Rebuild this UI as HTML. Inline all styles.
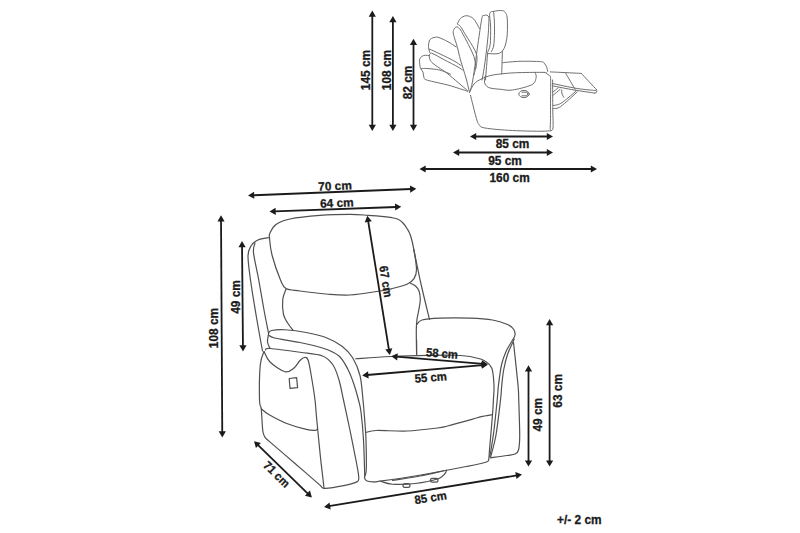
<!DOCTYPE html>
<html><head><meta charset="utf-8"><style>
html,body{margin:0;padding:0;background:#fff;width:800px;height:533px;overflow:hidden}
svg{display:block}
</style></head><body>
<svg width="800" height="533" viewBox="0 0 800 533">
<g fill="none" stroke="#505050" stroke-width="1.2" stroke-linejoin="round" stroke-linecap="round">
<g>
<path d="M270.00 233.00 C271.08 230.75 272.67 226.83 276.00 224.50 C279.33 222.17 282.67 220.52 290.00 219.00 C297.33 217.48 310.00 216.17 320.00 215.40 C330.00 214.63 342.00 214.42 350.00 214.40 C358.00 214.38 362.33 214.93 368.00 215.30 C373.67 215.67 380.00 216.20 384.00 216.60 C388.00 217.00 389.67 217.25 392.00 217.70 C394.33 218.15 396.25 218.50 398.00 219.30 C399.75 220.10 401.00 220.97 402.50 222.50 C404.00 224.03 405.67 226.33 407.00 228.50 C408.33 230.67 409.37 232.03 410.50 235.50 C411.63 238.97 412.80 243.62 413.80 249.30 C414.80 254.98 416.47 264.72 416.50 269.60 C416.53 274.48 415.58 276.15 414.00 278.60 C412.42 281.05 410.78 282.60 407.00 284.30 C403.22 286.00 395.80 287.68 391.30 288.80 C386.80 289.92 386.88 289.97 380.00 291.00 C373.12 292.03 359.00 294.50 350.00 295.00 C341.00 295.50 334.33 294.67 326.00 294.00 C317.67 293.33 306.67 291.92 300.00 291.00 C293.33 290.08 289.25 290.33 286.00 288.50 C282.75 286.67 282.83 285.58 280.50 280.00 C278.17 274.42 273.83 262.00 272.00 255.00 C270.17 248.00 269.83 241.67 269.50 238.00 C269.17 234.33 268.92 235.25 270.00 233.00Z"/>
<path d="M269.50 237.50 C267.58 237.92 261.08 238.58 258.00 240.00 C254.92 241.42 252.67 243.33 251.00 246.00 C249.33 248.67 248.08 250.33 248.00 256.00 C247.92 261.67 249.08 269.75 250.50 280.00 C251.92 290.25 254.50 305.67 256.50 317.50 C258.50 329.33 261.50 345.42 262.50 351.00"/>
<path d="M255.00 243.00 C254.75 244.60 252.88 246.43 253.50 252.60 C254.12 258.77 257.00 270.43 258.75 280.00 C260.50 289.57 262.38 301.17 264.00 310.00 C265.62 318.83 267.75 329.17 268.50 333.00"/>
<path d="M286.00 289.00 C285.46 290.75 283.17 295.25 282.75 299.50 C282.33 303.75 282.62 310.50 283.50 314.50 C284.38 318.50 286.42 320.88 288.00 323.50 C289.58 326.12 292.17 329.08 293.00 330.20"/>
<path d="M410.50 283.30 C411.33 283.75 414.08 284.72 415.50 286.00 C416.92 287.28 418.20 288.82 419.00 291.00 C419.80 293.18 420.22 296.60 420.30 299.10 C420.38 301.60 419.85 303.68 419.50 306.00 C419.15 308.32 418.62 310.77 418.20 313.00 C417.78 315.23 417.32 316.57 417.00 319.40 C416.68 322.23 416.37 324.15 416.30 330.00 C416.23 335.85 416.55 350.42 416.60 354.50"/>
<path d="M413.80 249.30 C415.00 255.08 418.38 272.30 421.00 284.00 C423.62 295.70 428.08 313.58 429.50 319.50"/>
<path d="M416.75 324.50 C417.62 323.75 418.12 321.05 422.00 320.00 C425.88 318.95 432.00 318.50 440.00 318.20 C448.00 317.90 461.25 317.90 470.00 318.20 C478.75 318.50 486.25 318.95 492.50 320.00 C498.75 321.05 504.00 323.00 507.50 324.50 C511.00 326.00 512.25 327.25 513.50 329.00 C514.75 330.75 515.25 333.00 515.00 335.00 C514.75 337.00 513.50 338.25 512.00 341.00 C510.50 343.75 507.75 347.50 506.00 351.50 C504.25 355.50 502.75 359.42 501.50 365.00 C500.25 370.58 499.22 379.17 498.50 385.00 C497.78 390.83 497.95 392.50 497.20 400.00 C496.45 407.50 495.03 421.67 494.00 430.00 C492.97 438.33 491.72 445.50 491.00 450.00 C490.28 454.50 489.92 455.83 489.70 457.00"/>
<path d="M514.25 339.00 C513.12 341.58 509.25 349.42 507.50 354.50 C505.75 359.58 504.70 364.42 503.75 369.50 C502.80 374.58 502.34 379.92 501.80 385.00 C501.26 390.08 501.47 391.67 500.50 400.00 C499.53 408.33 497.65 425.50 496.00 435.00 C494.35 444.50 491.50 453.33 490.60 457.00"/>
<path d="M513.50 342.50 C514.25 349.58 517.12 375.42 518.00 385.00 C518.88 394.58 518.47 391.46 518.75 400.00 C519.03 408.54 519.74 427.92 519.70 436.25 C519.66 444.58 519.28 447.04 518.50 450.00 C517.72 452.96 516.92 453.08 515.00 454.00 C513.08 454.92 511.07 454.87 507.00 455.50 C502.93 456.13 493.33 457.42 490.60 457.80"/>
<path d="M355.60 358.75 C361.54 358.38 374.68 357.08 391.25 356.50 C407.82 355.92 440.62 354.96 455.00 355.25 C469.38 355.54 472.50 357.25 477.50 358.25 C482.50 359.25 482.62 359.62 485.00 361.25 C487.38 362.88 490.25 364.04 491.75 368.00 C493.25 371.96 493.73 379.67 494.00 385.00 C494.27 390.33 493.65 395.05 493.40 400.00 C493.15 404.95 493.15 406.37 492.50 414.70 C491.85 423.03 490.12 442.66 489.50 450.00 C488.88 457.34 489.25 456.75 488.75 458.75 C488.25 460.75 490.25 460.71 486.50 462.00 C482.75 463.29 478.17 464.17 466.25 466.50 C454.33 468.83 430.29 473.42 415.00 476.00 C399.71 478.58 381.25 481.00 374.50 482.00"/>
<path d="M366.00 432.50 C367.71 432.17 369.33 430.75 376.25 430.50 C383.17 430.25 397.29 431.42 407.50 431.00 C417.71 430.58 430.83 428.83 437.50 428.00 C444.17 427.17 441.77 427.43 447.50 426.00 C453.23 424.57 466.27 420.97 471.90 419.40 C477.52 417.83 477.90 417.38 481.25 416.60 C484.60 415.82 490.21 415.02 492.00 414.70"/>
<path d="M268.50 333.50 C269.00 333.00 268.75 331.12 271.50 330.50 C274.25 329.88 279.00 329.38 285.00 329.75 C291.00 330.12 300.50 331.38 307.50 332.75 C314.50 334.12 321.25 335.75 327.00 338.00 C332.75 340.25 337.75 343.00 342.00 346.25 C346.25 349.50 349.50 352.62 352.50 357.50 C355.50 362.38 358.25 368.42 360.00 375.50 C361.75 382.58 362.17 391.92 363.00 400.00 C363.83 408.08 364.50 417.33 365.00 424.00 C365.50 430.67 365.79 432.33 366.00 440.00 C366.21 447.67 366.50 463.75 366.25 470.00 C366.00 476.25 364.38 475.67 364.50 477.50 C364.62 479.33 365.33 480.25 367.00 481.00 C368.67 481.75 373.25 481.83 374.50 482.00"/>
<path d="M268.50 335.00 C269.50 335.50 269.25 336.75 274.50 338.00 C279.75 339.25 291.75 340.75 300.00 342.50 C308.25 344.25 317.50 346.25 324.00 348.50 C330.50 350.75 335.00 352.50 339.00 356.00 C343.00 359.50 345.50 364.75 348.00 369.50 C350.50 374.25 352.25 379.42 354.00 384.50 C355.75 389.58 357.33 395.42 358.50 400.00 C359.67 404.58 360.17 405.33 361.00 412.00 C361.83 418.67 362.88 429.33 363.50 440.00 C364.12 450.67 364.54 470.00 364.75 476.00"/>
<path d="M268.50 334.00 C268.33 335.33 267.25 339.58 267.50 342.00 C267.75 344.42 269.58 347.42 270.00 348.50"/>
<path d="M265.50 350.00 C266.25 349.75 264.25 348.12 270.00 348.50 C275.75 348.88 291.25 351.00 300.00 352.25 C308.75 353.50 317.00 353.88 322.50 356.00 C328.00 358.12 330.25 361.00 333.00 365.00 C335.75 369.00 337.25 374.17 339.00 380.00 C340.75 385.83 341.77 392.08 343.50 400.00 C345.23 407.92 347.17 416.67 349.40 427.50 C351.63 438.33 355.34 456.67 356.90 465.00 C358.46 473.33 358.75 474.68 358.75 477.50 C358.75 480.32 359.40 480.55 356.90 481.90 C354.40 483.25 349.07 484.52 343.75 485.60 C338.43 486.68 328.75 488.23 325.00 488.40 C321.25 488.57 321.88 486.90 321.25 486.60"/>
<path d="M264.00 351.50 C265.00 353.25 266.50 358.62 270.00 362.00 C273.50 365.38 281.00 370.75 285.00 371.75 C289.00 372.75 291.50 369.88 294.00 368.00 C296.50 366.12 298.25 362.25 300.00 360.50 C301.75 358.75 303.12 357.50 304.50 357.50 C305.88 357.50 307.00 356.75 308.25 360.50 C309.50 364.25 310.88 373.42 312.00 380.00 C313.12 386.58 314.23 393.67 315.00 400.00 C315.77 406.33 315.72 408.73 316.60 418.00 C317.48 427.27 319.22 445.27 320.30 455.60 C321.38 465.93 322.48 474.53 323.10 480.00 C323.72 485.47 323.85 487.00 324.00 488.40"/>
<path d="M264.00 351.50 C263.38 353.75 261.00 356.92 260.25 365.00 C259.50 373.08 259.33 392.71 259.50 400.00 C259.67 407.29 260.78 404.58 261.25 408.75 C261.72 412.92 262.01 421.12 262.30 425.00 C262.59 428.88 262.58 430.02 263.00 432.00 C263.42 433.98 263.80 435.38 264.80 436.90 C265.80 438.42 263.97 436.67 269.00 441.10 C274.03 445.53 286.32 456.00 295.00 463.50 C303.68 471.00 316.75 482.33 321.10 486.10"/>
<path d="M261.25 408.75 C262.50 409.69 264.38 411.90 268.75 414.40 C273.12 416.90 281.25 421.25 287.50 423.75 C293.75 426.25 301.57 428.31 306.25 429.40 C310.93 430.49 313.73 430.47 315.60 430.30 C317.48 430.13 317.18 428.72 317.50 428.40"/>
<path d="M416.60 340.00 C416.60 342.42 416.60 352.08 416.60 354.50"/>
<path d="M380.50 481.25 C382.50 481.75 386.75 483.88 392.50 484.25 C398.25 484.62 407.50 484.38 415.00 483.50 C422.50 482.62 432.50 480.67 437.50 479.00 C442.50 477.33 443.50 475.00 445.00 473.50 C446.50 472.00 446.25 470.58 446.50 470.00"/>
<path d="M392.50 480.50 C397.08 479.75 411.50 477.62 420.00 476.00 C428.50 474.38 439.58 471.62 443.50 470.75"/>
<path d="M289.2 378.5 L296.6 377.6 L297.6 387.6 L290 388.4 Z"/>
<rect x="403" y="483.6" width="7" height="3.8" rx="1.9"/>
<rect x="430.5" y="478.4" width="7.5" height="3.8" rx="1.9"/>
</g><g stroke="#6e6e6e" stroke-width="1">
<path d="M488.30 53.60 C489.95 53.60 495.73 54.20 498.20 53.60 C500.67 53.00 501.82 51.77 503.10 50.00 C504.38 48.23 505.20 45.80 505.90 43.00 C506.60 40.20 507.07 37.18 507.30 33.20 C507.53 29.22 507.53 22.38 507.30 19.10 C507.07 15.82 506.72 14.92 505.90 13.50 C505.08 12.08 504.38 10.97 502.40 10.60 C500.42 10.23 496.12 10.82 494.00 11.30 C491.88 11.78 490.27 11.03 489.70 13.50 C489.13 15.97 490.52 20.95 490.60 26.10 C490.68 31.25 490.70 40.05 490.20 44.40 C489.70 48.75 488.03 50.90 487.60 52.20"/>
<path d="M493.50 11.50 C493.63 12.92 494.13 16.58 494.30 20.00 C494.47 23.42 494.58 27.83 494.50 32.00 C494.42 36.17 494.30 41.75 493.80 45.00 C493.30 48.25 491.88 50.42 491.50 51.50"/>
<path d="M487.60 52.90 C487.25 57.42 485.85 75.48 485.50 80.00"/>
<path d="M502.40 51.50 C502.28 55.25 501.82 70.25 501.70 74.00"/>
<path d="M489.00 17.00 C488.65 16.68 487.72 15.33 486.90 15.10 C486.08 14.87 484.92 15.17 484.10 15.60 C483.28 16.03 482.93 13.60 482.00 17.70 C481.07 21.80 480.03 29.82 478.50 40.20 C476.97 50.58 474.32 71.25 472.80 80.00 C471.28 88.75 469.97 90.58 469.40 92.70"/>
<path d="M489.00 17.00 C488.88 19.70 488.77 27.22 488.30 33.20 C487.83 39.18 486.90 47.03 486.20 52.90 C485.50 58.77 484.80 63.88 484.10 68.40 C483.40 72.92 482.35 78.07 482.00 80.00"/>
<path d="M457.40 23.60 C457.92 22.73 459.13 19.70 460.50 18.40 C461.87 17.10 463.88 16.05 465.60 15.80 C467.32 15.55 469.25 16.12 470.80 16.90 C472.35 17.68 473.45 18.53 474.90 20.50 C476.35 22.47 478.73 27.33 479.50 28.70"/>
<path d="M457.40 24.10 C457.92 24.50 459.13 24.70 460.50 26.50 C461.87 28.30 463.20 30.92 465.60 34.90 C468.00 38.88 473.00 46.22 474.90 50.40 C476.80 54.58 477.15 55.90 477.00 60.00 C476.85 64.10 474.50 72.50 474.00 75.00"/>
<path d="M460.50 29.70 C460.07 29.28 458.68 27.62 457.90 27.20 C457.12 26.78 456.48 26.78 455.80 27.20 C455.12 27.62 454.23 28.77 453.80 29.70 C453.37 30.63 453.03 31.25 453.20 32.80 C453.37 34.35 454.10 36.58 454.80 39.00 C455.50 41.42 456.45 43.80 457.40 47.30 C458.35 50.80 459.07 54.88 460.50 60.00 C461.93 65.12 464.52 72.67 466.00 78.00 C467.48 83.33 468.83 89.67 469.40 92.00"/>
<path d="M460.50 29.70 C461.52 31.60 464.37 36.63 466.60 41.10 C468.83 45.57 472.33 52.02 473.90 56.50 C475.47 60.98 475.65 66.08 476.00 68.00"/>
<path d="M456.25 47.00 C454.88 46.12 450.88 43.32 448.00 41.75 C445.12 40.18 441.12 38.35 439.00 37.60 C436.88 36.85 436.50 37.12 435.25 37.25 C434.00 37.38 432.50 37.77 431.50 38.40 C430.50 39.02 429.75 39.69 429.25 41.00 C428.75 42.31 428.56 44.88 428.50 46.25 C428.44 47.62 428.68 48.21 428.90 49.25 C429.12 50.29 429.65 51.96 429.80 52.50"/>
<path d="M428.90 49.25 C429.33 49.38 428.94 48.88 431.50 50.00 C434.06 51.12 440.33 54.08 444.25 56.00 C448.17 57.92 452.21 59.92 455.00 61.50 C457.79 63.08 460.00 64.83 461.00 65.50"/>
<path d="M462.50 70.00 C461.75 69.50 461.04 68.71 458.00 67.00 C454.96 65.29 448.42 61.96 444.25 59.75 C440.08 57.54 435.31 54.81 433.00 53.75 C430.69 52.69 431.02 53.02 430.40 53.40 C429.77 53.77 429.32 54.94 429.25 56.00 C429.18 57.06 429.38 58.50 430.00 59.75 C430.62 61.00 430.88 61.75 433.00 63.50 C435.12 65.25 440.25 68.50 442.75 70.25 C445.25 72.00 443.88 70.61 448.00 74.00 C452.12 77.39 464.25 87.83 467.50 90.60"/>
<path d="M429.25 55.60 C428.62 55.54 426.75 55.12 425.50 55.25 C424.25 55.38 422.75 55.65 421.75 56.40 C420.75 57.15 419.84 58.63 419.50 59.75 C419.16 60.87 419.62 61.98 419.70 63.10 C419.78 64.22 419.78 65.52 420.00 66.50 C420.22 67.48 420.48 68.00 421.00 69.00 C421.52 70.00 422.60 71.07 423.10 72.50 C423.60 73.93 423.28 76.32 424.00 77.60 C424.72 78.88 423.27 78.92 427.40 80.20 C431.53 81.48 442.10 83.45 448.80 85.30 C455.50 87.15 464.47 90.30 467.60 91.30"/>
<path d="M421.00 68.75 C421.75 68.69 422.88 68.28 425.50 68.40 C428.12 68.53 433.88 69.07 436.75 69.50 C439.62 69.93 440.46 70.22 442.75 71.00 C445.04 71.78 449.21 73.67 450.50 74.20"/>
<path d="M469.40 92.70 C470.17 91.25 472.02 86.28 474.00 84.00 C475.98 81.72 478.45 80.43 481.30 79.00 C484.15 77.57 487.15 76.32 491.10 75.40 C495.05 74.48 500.18 73.97 505.00 73.50 C509.82 73.03 513.50 72.78 520.00 72.60 C526.50 72.42 539.63 72.27 544.00 72.40 C548.37 72.53 545.32 72.88 546.20 73.40 C547.08 73.92 548.57 74.63 549.30 75.50 C550.03 76.37 550.40 74.52 550.60 78.60 C550.80 82.68 550.57 91.93 550.50 100.00 C550.43 108.07 550.70 121.83 550.20 127.00 C549.70 132.17 553.78 130.42 547.50 131.00 C541.22 131.58 522.92 131.00 512.50 130.50 C502.08 130.00 490.58 129.00 485.00 128.00 C479.42 127.00 480.50 126.33 479.00 124.50 C477.50 122.67 477.42 121.88 476.00 117.00 C474.58 112.12 471.42 98.88 470.50 95.25"/>
<path d="M552.60 80.00 C552.63 85.00 552.73 102.00 552.80 110.00 C552.87 118.00 553.38 124.58 553.00 128.00 C552.62 131.42 550.92 130.08 550.50 130.50"/>
<path d="M485.40 75.80 C485.27 76.93 484.03 80.63 484.60 82.60 C485.17 84.57 486.13 86.48 488.80 87.60 C491.47 88.72 496.65 88.90 500.60 89.30 C504.55 89.70 507.31 90.76 512.50 90.00 C517.69 89.24 527.82 86.79 531.75 84.75 C535.68 82.71 535.52 79.79 536.10 77.75 C536.68 75.71 535.39 73.38 535.25 72.50"/>
<path d="M502.40 62.70 C505.33 62.47 513.65 61.47 520.00 61.30 C526.35 61.12 536.48 61.35 540.50 61.65 C544.52 61.95 543.07 62.17 544.10 63.10 C545.13 64.03 546.10 65.82 546.70 67.20 C547.30 68.58 547.53 70.70 547.70 71.40"/>
<path d="M550.30 71.90 C552.75 72.02 559.83 72.35 565.00 72.60 C570.17 72.85 578.58 73.27 581.30 73.40"/>
<path d="M581.30 73.40 C583.80 76.07 593.80 86.73 596.30 89.40"/>
<path d="M596.30 89.40 C596.38 89.83 597.05 91.38 596.80 92.00 C596.55 92.62 595.13 92.92 594.80 93.10"/>
<path d="M594.80 93.10 C591.35 92.58 581.17 91.22 574.10 90.00 C567.03 88.78 556.02 86.50 552.40 85.80"/>
<path d="M552.40 83.50 C556.53 84.33 570.02 87.33 577.20 88.50 C584.38 89.67 592.45 90.17 595.50 90.50"/>
<path d="M565.80 73.40 C567.35 76.07 573.55 86.73 575.10 89.40"/>
<path d="M553.40 105.50 C554.27 105.32 556.87 105.10 558.60 104.40 C560.33 103.70 560.87 103.53 563.80 101.30 C566.73 99.07 574.13 92.72 576.20 91.00"/>
<path d="M553.40 108.50 C554.62 108.17 556.73 109.25 560.70 106.50 C564.67 103.75 574.45 94.42 577.20 92.00"/>
<path d="M553.00 92.00 C553.85 91.32 557.25 88.58 558.10 87.90"/>
<path d="M553.40 95.00 C554.52 94.07 558.98 90.33 560.10 89.40"/>
<path d="M561.70 90.00 C561.75 90.67 561.65 92.80 562.00 94.00 C562.35 95.20 563.50 96.67 563.80 97.20"/>
<ellipse cx="524" cy="94" rx="5.2" ry="3.6"/>
<path d="M522 92.2 L527 92.2 Q528.5 94 527 95.8 L522 95.8"/>
</g>
</g>
<g stroke="#1b1b1b" stroke-width="1.8" fill="#1b1b1b">
<line x1="372.30" y1="15.46" x2="372.30" y2="126.04"/><polygon stroke="none" points="372.30,10.50 368.70,16.70 375.90,16.70"/><polygon stroke="none" points="372.30,131.00 368.70,124.80 375.90,124.80"/><line x1="392.90" y1="21.06" x2="392.90" y2="126.04"/><polygon stroke="none" points="392.90,16.10 389.30,22.30 396.50,22.30"/><polygon stroke="none" points="392.90,131.00 389.30,124.80 396.50,124.80"/><line x1="413.50" y1="43.76" x2="413.50" y2="126.04"/><polygon stroke="none" points="413.50,38.80 409.90,45.00 417.10,45.00"/><polygon stroke="none" points="413.50,131.00 409.90,124.80 417.10,124.80"/><line x1="474.96" y1="136.50" x2="548.04" y2="136.50"/><polygon stroke="none" points="470.00,136.50 476.20,140.10 476.20,132.90"/><polygon stroke="none" points="553.00,136.50 546.80,140.10 546.80,132.90"/><line x1="457.96" y1="152.50" x2="548.04" y2="152.50"/><polygon stroke="none" points="453.00,152.50 459.20,156.10 459.20,148.90"/><polygon stroke="none" points="553.00,152.50 546.80,156.10 546.80,148.90"/><line x1="424.46" y1="169.00" x2="592.04" y2="169.00"/><polygon stroke="none" points="419.50,169.00 425.70,172.60 425.70,165.40"/><polygon stroke="none" points="597.00,169.00 590.80,172.60 590.80,165.40"/><line x1="252.96" y1="195.30" x2="411.34" y2="189.00"/><polygon stroke="none" points="248.00,195.50 254.34,198.85 254.05,191.66"/><polygon stroke="none" points="416.30,188.80 410.25,192.64 409.96,185.45"/><line x1="274.46" y1="211.32" x2="396.34" y2="206.98"/><polygon stroke="none" points="269.50,211.50 275.82,214.88 275.57,207.68"/><polygon stroke="none" points="401.30,206.80 395.23,210.62 394.98,203.42"/><line x1="221.03" y1="220.26" x2="222.27" y2="432.54"/><polygon stroke="none" points="221.00,215.30 217.44,221.52 224.64,221.48"/><polygon stroke="none" points="222.30,437.50 218.66,431.32 225.86,431.28"/><line x1="242.04" y1="245.96" x2="242.96" y2="346.54"/><polygon stroke="none" points="242.00,241.00 238.46,247.23 245.66,247.17"/><polygon stroke="none" points="243.00,351.50 239.34,345.33 246.54,345.27"/><line x1="549.60" y1="323.96" x2="549.60" y2="461.64"/><polygon stroke="none" points="549.60,319.00 546.00,325.20 553.20,325.20"/><polygon stroke="none" points="549.60,466.60 546.00,460.40 553.20,460.40"/><line x1="528.50" y1="370.26" x2="528.50" y2="461.64"/><polygon stroke="none" points="528.50,365.30 524.90,371.50 532.10,371.50"/><polygon stroke="none" points="528.50,466.60 524.90,460.40 532.10,460.40"/><line x1="257.56" y1="444.66" x2="308.34" y2="494.04"/><polygon stroke="none" points="254.00,441.20 255.94,448.10 260.95,442.94"/><polygon stroke="none" points="311.90,497.50 304.95,495.76 309.96,490.60"/><line x1="328.89" y1="506.20" x2="517.11" y2="475.30"/><polygon stroke="none" points="324.00,507.00 330.70,509.55 329.54,502.44"/><polygon stroke="none" points="522.00,474.50 516.46,479.06 515.30,471.95"/><line x1="368.09" y1="220.70" x2="389.01" y2="350.10"/><polygon stroke="none" points="367.30,215.80 364.74,222.50 371.84,221.35"/><polygon stroke="none" points="389.80,355.00 385.26,349.45 392.36,348.30"/><line x1="396.24" y1="356.71" x2="482.86" y2="363.89"/><polygon stroke="none" points="391.30,356.30 397.18,360.40 397.78,353.22"/><polygon stroke="none" points="487.80,364.30 481.32,367.38 481.92,360.20"/><line x1="367.14" y1="374.98" x2="482.86" y2="365.12"/><polygon stroke="none" points="362.20,375.40 368.68,378.46 368.07,371.29"/><polygon stroke="none" points="487.80,364.70 481.93,368.81 481.32,361.64"/>
</g>
<g font-family="Liberation Sans, sans-serif" font-weight="bold" font-size="12" fill="#1b1b1b" stroke="#1b1b1b" stroke-width="0.3" text-anchor="middle">
<text x="0" y="4.57" transform="translate(365.60 70.00) rotate(-90) scale(0.99 1)">145 cm</text><text x="0" y="4.57" transform="translate(386.60 70.00) rotate(-90) scale(0.99 1)">108 cm</text><text x="0" y="4.57" transform="translate(407.00 82.50) rotate(-90) scale(0.99 1)">82 cm</text><text x="0" y="4.57" transform="translate(512.50 143.80) rotate(0) scale(0.99 1)">85 cm</text><text x="0" y="4.57" transform="translate(505.00 160.20) rotate(0) scale(0.99 1)">95 cm</text><text x="0" y="4.57" transform="translate(509.60 177.00) rotate(0) scale(0.99 1)">160 cm</text><text x="0" y="4.57" transform="translate(335.00 185.50) rotate(-2.3) scale(0.99 1)">70 cm</text><text x="0" y="4.57" transform="translate(336.80 202.50) rotate(-2.1) scale(0.99 1)">64 cm</text><text x="0" y="4.57" transform="translate(213.50 328.00) rotate(-90) scale(0.99 1)">108 cm</text><text x="0" y="4.57" transform="translate(235.50 297.00) rotate(-90) scale(0.99 1)">49 cm</text><text x="0" y="4.57" transform="translate(557.50 390.80) rotate(-90) scale(0.99 1)">63 cm</text><text x="0" y="4.57" transform="translate(537.50 414.70) rotate(-90) scale(0.99 1)">49 cm</text><text x="0" y="4.57" transform="translate(277.00 474.00) rotate(44) scale(0.93 1)">71 cm</text><text x="0" y="4.57" transform="translate(430.50 497.20) rotate(-9.3) scale(0.95 1)">85 cm</text><text x="0" y="4.57" transform="translate(386.30 281.50) rotate(80.8) scale(0.94 1)">67 cm</text><text x="0" y="4.57" transform="translate(442.00 353.00) rotate(5) scale(0.94 1)">58 cm</text><text x="0" y="4.57" transform="translate(430.60 377.00) rotate(-4.5) scale(0.95 1)">55 cm</text><text x="0" y="4.57" transform="translate(579.30 519.00) rotate(0) scale(0.99 1)">+/- 2 cm</text>
</g>
</svg>
</body></html>
